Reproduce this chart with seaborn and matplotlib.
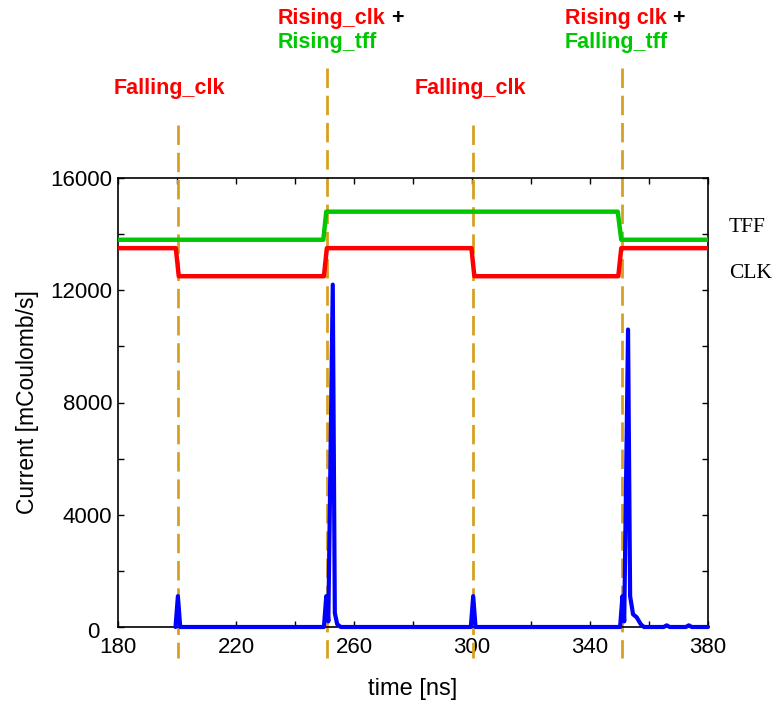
import matplotlib
matplotlib.use("Agg")
import matplotlib.pyplot as plt
import matplotlib.transforms as mtransforms
import seaborn as sns
import numpy as np
from matplotlib.ticker import MultipleLocator

# ---------------- data ----------------
clk_t = [180, 199.6, 200.6, 249.8, 250.8, 299.8, 300.8, 349.6, 350.6, 380]
clk_v = [13500, 13500, 12500, 12500, 13500, 13500, 12500, 12500, 13500, 13500]

tff_t = [180, 249.6, 250.6, 349.4, 350.6, 380]
tff_v = [13800, 13800, 14800, 14800, 13800, 13800]

cur_t = [199.5, 200.3, 201.1,
         249.8, 250.6, 251.3, 252.8, 253.5, 254.3, 255.5,
         299.6, 300.4, 301.2,
         350.2, 351.0, 351.6, 352.9, 353.6, 354.6, 355.8, 357.2, 358.3,
         365.0, 366.0, 367.0, 372.5, 373.5, 374.5, 380.0]
cur_v = [0, 1100, 0,
         0, 1100, 200, 12200, 500, 100, 0,
         0, 1100, 0,
         0, 1100, 200, 10600, 1100, 450, 350, 100, 0,
         0, 60, 0, 0, 60, 0, 0]

event_t = [200.5, 250.9, 300.4, 350.9]
event_top = [1.118, 1.245, 1.118, 1.245]

x_ticks = [180, 220, 260, 300, 340, 380]
y_ticks = [0, 4000, 8000, 12000, 16000]

# ---------------- style ----------------
sns.set_style("white")
plt.rcParams['font.family'] = ['Liberation Sans', 'DejaVu Sans']
plt.rcParams['text.color'] = 'black'
plt.rcParams['axes.labelcolor'] = 'black'
plt.rcParams['xtick.color'] = 'black'
plt.rcParams['ytick.color'] = 'black'

RED = '#FF0000'
GREEN = '#00C800'
BLUE = '#0000FF'
GOLD = '#D6A022'

fig = plt.figure(figsize=(7.76, 7.03), dpi=100)
ax = fig.add_axes([118/776, 1-627/703, 590/776, 449/703])

# dashed event lines
trans = ax.get_xaxis_transform()
for t, top in zip(event_t, event_top):
    ax.plot([t, t], [top, -0.07], transform=trans, color=GOLD, lw=2.0,
            dashes=(7, 2.8), clip_on=False, zorder=1.5)

sns.lineplot(x=tff_t, y=tff_v, color=GREEN, lw=3.2, ax=ax, estimator=None, sort=False, zorder=3)
sns.lineplot(x=clk_t, y=clk_v, color=RED, lw=3.2, ax=ax, estimator=None, sort=False, zorder=3)
sns.lineplot(x=cur_t, y=cur_v, color=BLUE, lw=3.0, ax=ax, estimator=None, sort=False, zorder=4)
ax.lines[-1].set_clip_on(False)

ax.set_xlim(180, 380)
ax.set_ylim(0, 16000)
ax.set_xticks(x_ticks)
ax.set_yticks(y_ticks)
ax.xaxis.set_minor_locator(MultipleLocator(20))
ax.yaxis.set_minor_locator(MultipleLocator(2000))
ax.tick_params(which='both', direction='in', top=True, right=True, bottom=True, left=True,
               length=4, width=1, color='black', labelcolor='black')
ax.tick_params(axis='x', which='major', labelsize=16, pad=7.5)
ax.tick_params(axis='y', which='major', labelsize=16, pad=4)
for s in ax.spines.values():
    s.set_color('black')
    s.set_linewidth(1.2)

# shift the "0" y tick label left/down so it clears "180"
zero_lab = ax.yaxis.get_major_ticks()[0].label1
zero_lab.set_transform(zero_lab.get_transform() +
                       mtransforms.ScaledTranslation(-0.13, -0.03, fig.dpi_scale_trans))

ax.set_xlabel('time [ns]', fontsize=17, labelpad=14, color='black')
ax.set_ylabel('Current [mCoulomb/s]', fontsize=16.5, labelpad=8, color='black')

# annotations above the plot
FS = 15.5
bold = dict(fontsize=FS, fontweight='bold', transform=ax.transAxes, va='center')
ax.text((169-118)/590, 1.2004, 'Falling_clk', color=RED, ha='center', **bold)
ax.text((470-118)/590, 1.2004, 'Falling_clk', color=RED, ha='center', **bold)
t1 = ax.text((278-118)/590, 1.3563, 'Rising_clk', color=RED, ha='left', **bold)
ax.text((278-118)/590, 1.3007, 'Rising_tff', color=GREEN, ha='left', **bold)
t2 = ax.text((565-118)/590, 1.3563, 'Rising clk', color=RED, ha='left', **bold)
ax.text((565-118)/590, 1.3007, 'Falling_tff', color=GREEN, ha='left', **bold)
for t in (t1, t2):
    ax.annotate(' +', xy=(1, 0.5), xycoords=t, va='center', ha='left',
                fontsize=FS, fontweight='bold', color='black')

serif = dict(fontsize=15.5, family=['Liberation Serif', 'DejaVu Serif'], transform=ax.transAxes,
             va='center', ha='left', color='black')
ax.text((729-118)/590, (627-228)/449, 'TFF', **serif)
ax.text((729-118)/590, (627-274)/449, 'CLK', **serif)

fig.savefig('out.png', dpi=100)
